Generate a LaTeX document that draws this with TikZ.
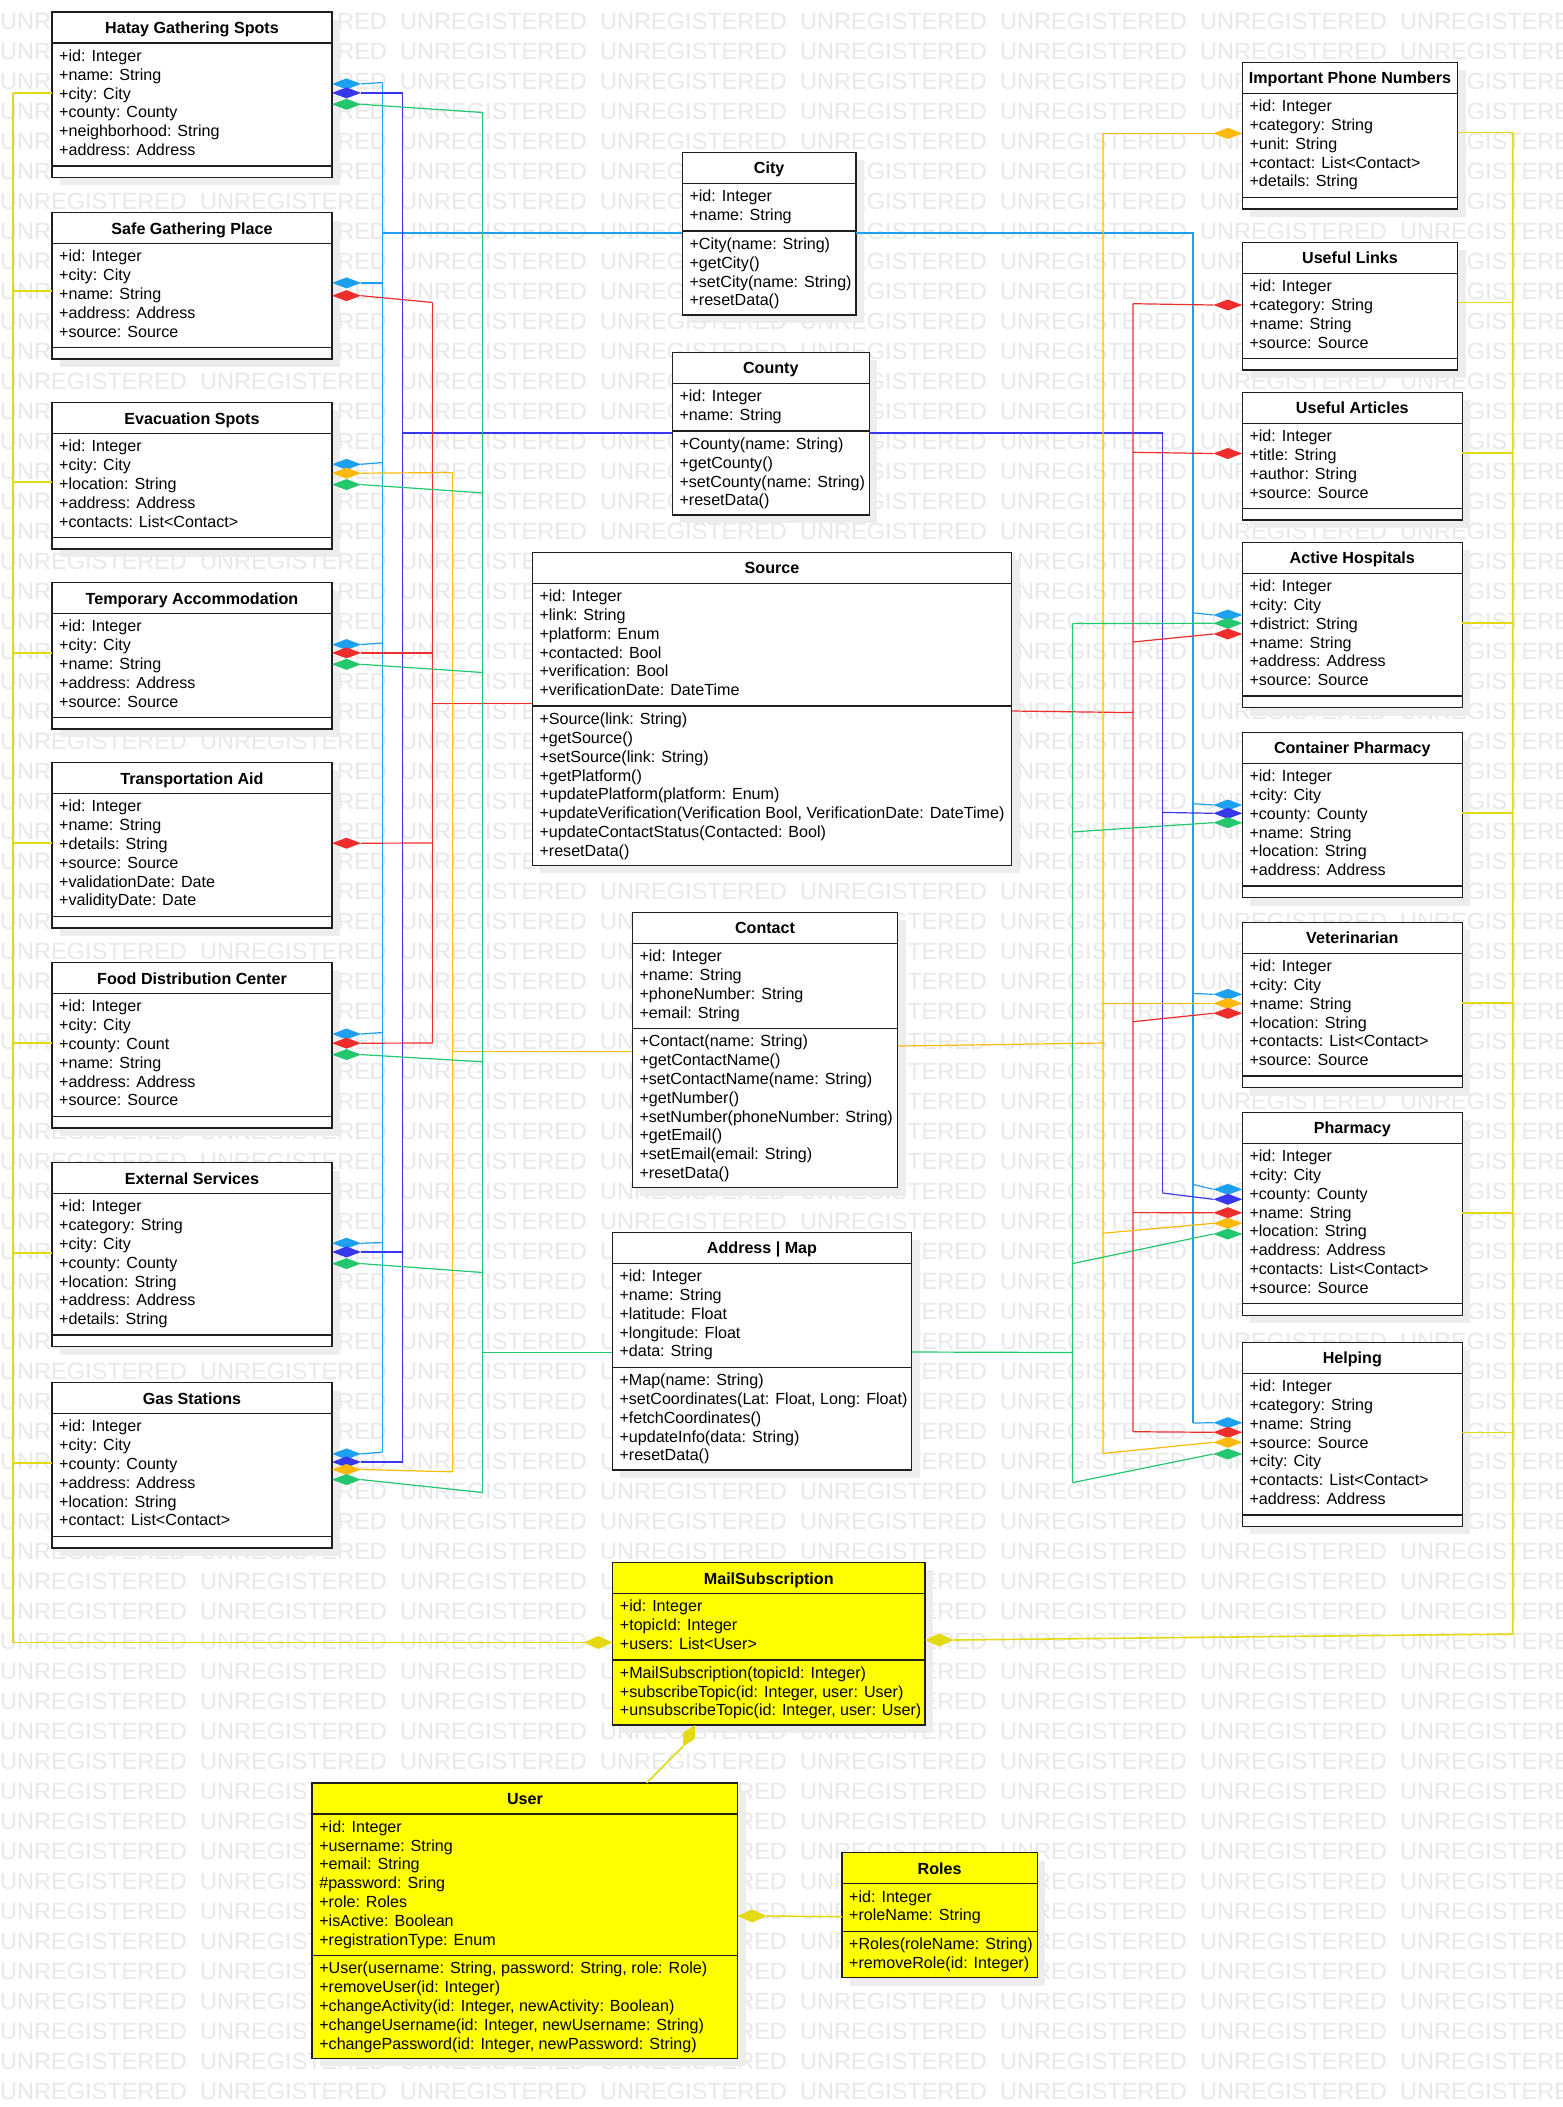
\documentclass[tikz,border=0pt]{standalone}
\usepackage{fontspec}
\setmainfont{Liberation Sans}
\definecolor{cCity}{RGB}{30,160,240}
\definecolor{cCounty}{RGB}{55,55,235}
\definecolor{cAddr}{RGB}{35,200,110}
\definecolor{cSrc}{RGB}{240,45,45}
\definecolor{cCont}{RGB}{255,185,10}
\definecolor{cMail}{RGB}{228,218,20}
\definecolor{ybox}{RGB}{255,255,0}
\newcommand\cfont{\fontsize{16.1}{18.8}\selectfont}
\tikzset{
 conn/.style={line width=1.2pt},
 yconn/.style={line width=1.6pt, draw=cMail},
 boxline/.style={line width=1.4pt, draw=black!88},
 wm/.style={font=\fontsize{23.5}{28}\selectfont, text=black!9, inner sep=0pt, anchor=west},
}
\def\clsfill{white}
\newcommand{\cls}[9]{%
 \pgfmathsetmacro\yh{#3+31}%
 \pgfmathsetmacro\yd{\yh+#5*18.8+10}%
 \ifnum#6=0 \pgfmathsetmacro\yb{\yd+11.5}\else\pgfmathsetmacro\yb{\yd+#6*18.8+8.8}\fi
 \fill[black!7] (#2+8,#3+8) rectangle (#4+8,\yb+8);
 \node[boxline, fill=\clsfill, inner sep=0pt, outer sep=0pt, minimum width=#4-#2, minimum height=\yb-#3, anchor=north west] (#1) at (#2,#3) {};
 \draw[boxline] (#2,\yh) -- (#4,\yh) (#2,\yd) -- (#4,\yd);
 \node[font=\cfont\bfseries, text height=11.6pt, text depth=0pt, inner sep=0pt] at ({(#2+#4)/2},#3+15.8) {#7};
 \node[font=\cfont, anchor=north west, align=left, inner sep=0pt] at (#2+7,\yh+5.04) {\strut#8};
 \ifnum#6>0 \node[font=\cfont, anchor=north west, align=left, inner sep=0pt] at (#2+7,\yd+5.14) {\strut#9};\fi
}
% diamond on east side of node, line to target
\newcommand{\dR}[4]{%
 \fill[#1] (#2.east |- 0,#3) -- ++(14.5,5.5) -- ++(14.5,-5.5) -- ++(-14.5,-5.5) -- cycle;
 \draw[#1,conn] (#2.east |- 0,#3) ++(29,0) -- #4;}
% diamond on west side of node, line to target
\newcommand{\dL}[4]{%
 \fill[#1] (#2.west |- 0,#3) -- ++(-14.5,5.5) -- ++(-14.5,-5.5) -- ++(14.5,-5.5) -- cycle;
 \draw[#1,conn] (#2.west |- 0,#3) ++(-29,0) -- #4;}
\begin{document}
\begin{tikzpicture}[x=1pt,y=-1pt]
\useasboundingbox (0,0) rectangle (1563,2107);
\fill[white] (0,0) rectangle (1563,2107);
% watermark
\foreach \k in {0,...,69} {\foreach \j in {0,...,7} {\node[wm] at (200*\j,21.4+30*\k) {UNREGISTERED};}}

% ---------- left column ----------
\cls{hatay}{52}{12}{332}{6}{0}{Hatay Gathering Spots}{+id: Integer\\+name: String\\+city: City\\+county: County\\+neighborhood: String\\+address: Address}{}
\cls{safe}{52}{212.5}{332}{5}{0}{Safe Gathering Place}{+id: Integer\\+city: City\\+name: String\\+address: Address\\+source: Source}{}
\cls{evac}{52}{402.5}{332}{5}{0}{Evacuation Spots}{+id: Integer\\+city: City\\+location: String\\+address: Address\\+contacts: List<Contact>}{}
\cls{temp}{52}{582.5}{332}{5}{0}{Temporary Accommodation}{+id: Integer\\+city: City\\+name: String\\+address: Address\\+source: Source}{}
\cls{trans}{52}{762.5}{332}{6}{0}{Transportation Aid}{+id: Integer\\+name: String\\+details: String\\+source: Source\\+validationDate: Date\\+validityDate: Date}{}
\cls{food}{52}{962.5}{332}{6}{0}{Food Distribution Center}{+id: Integer\\+city: City\\+county: Count\\+name: String\\+address: Address\\+source: Source}{}
\cls{ext}{52}{1162.5}{332}{7}{0}{External Services}{+id: Integer\\+category: String\\+city: City\\+county: County\\+location: String\\+address: Address\\+details: String}{}
\cls{gas}{52}{1382.5}{332}{6}{0}{Gas Stations}{+id: Integer\\+city: City\\+county: County\\+address: Address\\+location: String\\+contact: List<Contact>}{}

% ---------- centre ----------
\cls{city}{682.3}{152.3}{856}{2}{4}{City}{+id: Integer\\+name: String}{+City(name: String)\\+getCity()\\+setCity(name: String)\\+resetData()}
\cls{county}{672.3}{352.3}{869.3}{2}{4}{County}{+id: Integer\\+name: String}{+County(name: String)\\+getCounty()\\+setCounty(name: String)\\+resetData()}
\cls{source}{532.3}{552.3}{1011.7}{6}{8}{Source}{+id: Integer\\+link: String\\+platform: Enum\\+contacted: Bool\\+verification: Bool\\+verificationDate: DateTime}{+Source(link: String)\\+getSource()\\+setSource(link: String)\\+getPlatform()\\+updatePlatform(platform: Enum)\\+updateVerification(Verification Bool, VerificationDate: DateTime)\\+updateContactStatus(Contacted: Bool)\\+resetData()}
\cls{contact}{632.3}{912.2}{897.7}{4}{8}{Contact}{+id: Integer\\+name: String\\+phoneNumber: String\\+email: String}{+Contact(name: String)\\+getContactName()\\+setContactName(name: String)\\+getNumber()\\+setNumber(phoneNumber: String)\\+getEmail()\\+setEmail(email: String)\\+resetData()}
\cls{address}{612.3}{1232.2}{911.7}{5}{5}{Address | Map}{+id: Integer\\+name: String\\+latitude: Float\\+longitude: Float\\+data: String}{+Map(name: String)\\+setCoordinates(Lat: Float, Long: Float)\\+fetchCoordinates()\\+updateInfo(data: String)\\+resetData()}

% ---------- right column ----------
\cls{phone}{1242.3}{62.3}{1457.7}{5}{0}{Important Phone Numbers}{+id: Integer\\+category: String\\+unit: String\\+contact: List<Contact>\\+details: String}{}
\cls{links}{1242.3}{242.3}{1457.7}{4}{0}{Useful Links}{+id: Integer\\+category: String\\+name: String\\+source: Source}{}
\cls{articles}{1242.3}{392.3}{1462.3}{4}{0}{Useful Articles}{+id: Integer\\+title: String\\+author: String\\+source: Source}{}
\cls{hosp}{1242.3}{542.3}{1462.3}{6}{0}{Active Hospitals}{+id: Integer\\+city: City\\+district: String\\+name: String\\+address: Address\\+source: Source}{}
\cls{contpharm}{1242.3}{732.3}{1462.3}{6}{0}{Container Pharmacy}{+id: Integer\\+city: City\\+county: County\\+name: String\\+location: String\\+address: Address}{}
\cls{vet}{1242.3}{922.3}{1462.3}{6}{0}{Veterinarian}{+id: Integer\\+city: City\\+name: String\\+location: String\\+contacts: List<Contact>\\+source: Source}{}
\cls{pharm}{1242.3}{1112.3}{1462.3}{8}{0}{Pharmacy}{+id: Integer\\+city: City\\+county: County\\+name: String\\+location: String\\+address: Address\\+contacts: List<Contact>\\+source: Source}{}
\cls{helping}{1242.3}{1342.3}{1462.3}{7}{0}{Helping}{+id: Integer\\+category: String\\+name: String\\+source: Source\\+city: City\\+contacts: List<Contact>\\+address: Address}{}

% ---------- yellow classes ----------
\def\clsfill{ybox}
\cls{mail}{612.7}{1562.4}{924.8}{3}{3}{MailSubscription}{+id: Integer\\+topicId: Integer\\+users: List<User>}{+MailSubscription(topicId: Integer)\\+subscribeTopic(id: Integer, user: User)\\+unsubscribeTopic(id: Integer, user: User)}
\cls{user}{312.1}{1782.8}{737.7}{7}{5}{User}{+id: Integer\\+username: String\\+email: String\\\#password: Sring\\+role: Roles\\+isActive: Boolean\\+registrationType: Enum}{+User(username: String, password: String, role: Role)\\+removeUser(id: Integer)\\+changeActivity(id: Integer, newActivity: Boolean)\\+changeUsername(id: Integer, newUsername: String)\\+changePassword(id: Integer, newPassword: String)}
\cls{roles}{842}{1852.7}{1037.3}{2}{2}{Roles}{+id: Integer\\+roleName: String}{+Roles(roleName: String)\\+removeRole(id: Integer)}

% ---------- left buses ----------
\draw[cCity,conn] (382.7,82.5) -- (382.7,1452) (382.7,233) -- (city.west |- 0,233);
\draw[cCounty,conn] (402.7,92.9) -- (402.7,1462) (402.7,433) -- (county.west |- 0,433);
\draw[cSrc,conn] (432.7,302.5) -- (432.7,1043) (432.7,703.5) -- (source.west |- 0,703.5);
\draw[cCont,conn] (452.7,472.5) -- (452.7,1471.8) (452.7,1051.5) -- (contact.west |- 0,1051.5);
\draw[cAddr,conn] (482.7,112.5) -- (482.7,1492.5) (482.7,1352.5) -- (address.west |- 0,1352.5);

% ---------- right buses ----------
\draw[cCity,conn] (city.east |- 0,233) -- (1193,233) -- (1193,1423);
\draw[cCounty,conn] (county.east |- 0,433) -- (1162.7,433) -- (1162.7,1193);
\draw[cSrc,conn] (source.east |- 0,711) -- (1133,712.6) (1133,303.7) -- (1133,1431.7);
\draw[cCont,conn] (contact.east |- 0,1046) -- (1103,1043) (1103,133.4) -- (1103,1453.4);
\draw[cAddr,conn] (address.east |- 0,1352) -- (1072.5,1352.5) (1072.5,623.6) -- (1072.5,1482.6);

% ---------- left diamonds ----------
\dR{cCity}{hatay}{83.9}{(382.7,82.5)}
\dR{cCounty}{hatay}{92.9}{(402.7,92.9)}
\dR{cAddr}{hatay}{104.3}{(482.7,112.5)}
\dR{cCity}{safe}{282.9}{(382.7,282.9)}
\dR{cSrc}{safe}{295.7}{(432.7,302.5)}
\dR{cCity}{evac}{464.3}{(382.7,462.5)}
\dR{cCont}{evac}{473.2}{(452.7,472.5)}
\dR{cAddr}{evac}{484.6}{(482.7,492.9)}
\dR{cCity}{temp}{644.6}{(382.7,642.9)}
\dR{cSrc}{temp}{652.9}{(432.7,652.9)}
\dR{cAddr}{temp}{664.3}{(482.7,672.5)}
\dR{cSrc}{trans}{843.2}{(432.7,843)}
\dR{cCity}{food}{1034}{(382.7,1032.5)}
\dR{cSrc}{food}{1043.2}{(432.7,1043)}
\dR{cAddr}{food}{1054.6}{(482.7,1061.8)}
\dR{cCity}{ext}{1243.2}{(382.7,1242.5)}
\dR{cCounty}{ext}{1252}{(402.7,1252)}
\dR{cAddr}{ext}{1263.6}{(482.7,1272.5)}
\dR{cCity}{gas}{1453.9}{(382.7,1452)}
\dR{cCounty}{gas}{1462}{(402.7,1462)}
\dR{cCont}{gas}{1469.5}{(452.7,1471.8)}
\dR{cAddr}{gas}{1479.6}{(482.7,1492.5)}

% ---------- right diamonds ----------
\dL{cCont}{phone}{133.4}{(1103,133.4)}
\dL{cSrc}{links}{305}{(1133,303.7)}
\dL{cSrc}{articles}{453.5}{(1133,452.3)}
\dL{cCity}{hosp}{615}{(1193,612.8)}
\dL{cAddr}{hosp}{623.3}{(1072.5,623.6)}
\dL{cSrc}{hosp}{634}{(1133,642)}
\dL{cCity}{contpharm}{805}{(1193,803.7)}
\dL{cCounty}{contpharm}{813.3}{(1162.7,812.4)}
\dL{cAddr}{contpharm}{822.7}{(1072.5,831.9)}
\dL{cCity}{vet}{994.3}{(1193,993.5)}
\dL{cCont}{vet}{1003.3}{(1103,1003.3)}
\dL{cSrc}{vet}{1013.3}{(1133,1021.7)}
\dL{cCity}{pharm}{1189.3}{(1193,1184.4)}
\dL{cCounty}{pharm}{1199.3}{(1162.7,1193)}
\dL{cSrc}{pharm}{1212.7}{(1133,1212.6)}
\dL{cCont}{pharm}{1223.3}{(1103,1233.2)}
\dL{cAddr}{pharm}{1234}{(1072.5,1263.6)}
\dL{cCity}{helping}{1422.7}{(1193,1423)}
\dL{cSrc}{helping}{1432.3}{(1133,1431.7)}
\dL{cCont}{helping}{1442.3}{(1103,1453.4)}
\dL{cAddr}{helping}{1454}{(1072.5,1482.6)}

% ---------- yellow (mail) connectors ----------
\draw[yconn] (12.7,92.9) -- (12.7,1642.5) -- (583.6,1642.5);
\foreach \n/\y in {hatay/92.9, safe/291, evac/482, temp/652.9, trans/842.9, food/1042.9, ext/1252.9, gas/1462.9}
  {\draw[yconn] (12.7,\y) -- (\n.west |- 0,\y);}
\fill[cMail] (mail.west |- 0,1642.5) -- ++(-14.5,6.5) -- ++(-14.5,-6.5) -- ++(14.5,-6.5) -- cycle;
\draw[yconn] (1512.7,132.3) -- (1512.7,1634) -- (953.8,1640);
\foreach \n/\y in {phone/132.3, links/302.3, articles/452.7, hosp/622.7, contpharm/812.7, vet/1002.7, pharm/1212.7, helping/1432.3}
  {\draw[yconn] (\n.east |- 0,\y) -- (1512.7,\y);}
\fill[cMail] (mail.east |- 0,1640) -- ++(14.5,6.5) -- ++(14.5,-6.5) -- ++(-14.5,-6.5) -- cycle;
% mail - user
\coordinate (mu) at (695,1725);
\fill[cMail] (mu) -- (694.7,1739.0) -- (683,1746.6) -- (683.3,1732.6) -- cycle;
\draw[yconn] (683,1746.6) -- (646.6,1782.8);
% user - roles
\fill[cMail] (user.east |- 0,1916) -- ++(14.5,6.5) -- ++(14.5,-6.5) -- ++(-14.5,-6.5) -- cycle;
\draw[yconn] (766.7,1916) -- (roles.west |- 0,1916.7);
\end{tikzpicture}
\end{document}
